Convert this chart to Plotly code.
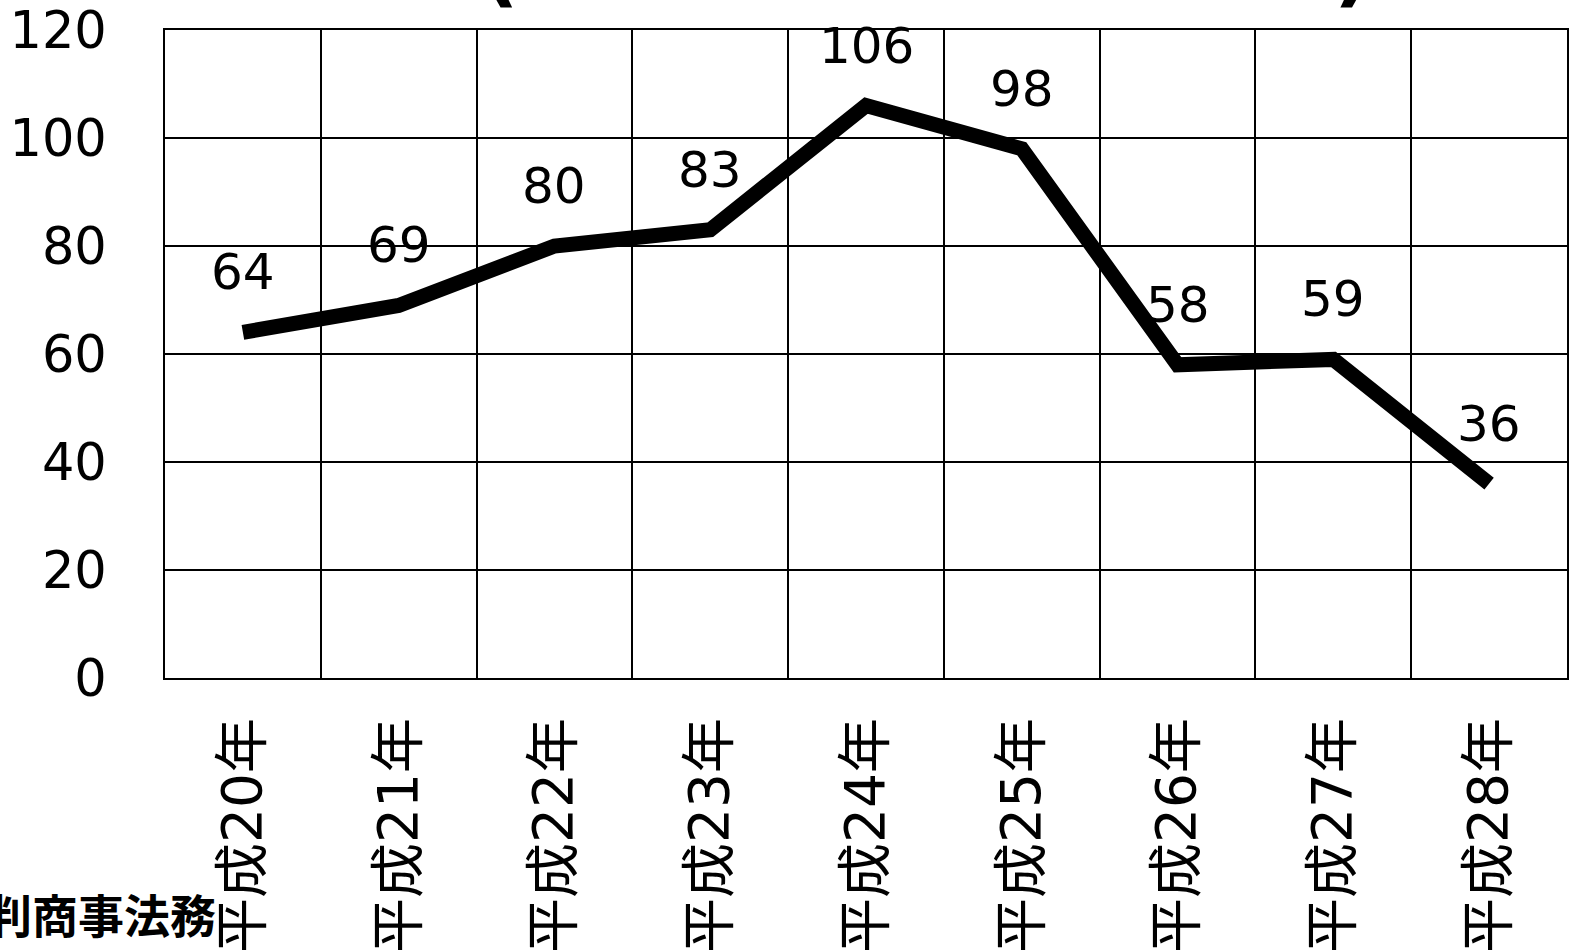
import plotly.graph_objects as go

categories = ["平成20年", "平成21年", "平成22年", "平成23年", "平成24年",
              "平成25年", "平成26年", "平成27年", "平成28年"]
values = [64, 69, 80, 83, 106, 98, 58, 59, 36]
y_ticks = [0, 20, 40, 60, 80, 100, 120]
credit = "©金判商事法務"

FONT = "DejaVu Sans, Verdana, Noto Sans CJK JP, sans-serif"
xs = list(range(len(categories)))

L, R, T, B = 165, 7, 30, 272
PW = 1574 - L - R
PH = 950 - T - B


def px(xp):
    return (xp - L) / PW


def py(yp):
    return (950 - B - yp) / PH


fig = go.Figure()
fig.add_trace(go.Scatter(
    x=xs, y=values, mode="lines",
    line=dict(color="black", width=15),
    hoverinfo="skip", showlegend=False,
))

for x, v in zip(xs, values):
    fig.add_annotation(x=x, y=v, text=str(v), showarrow=False,
                       yshift=60, yanchor="middle",
                       font=dict(family=FONT, size=50, color="black"))

fig.add_annotation(xref="paper", yref="paper", x=px(218), y=py(913),
                   xanchor="right", yanchor="middle", showarrow=False,
                   text="<b>" + credit + "</b>",
                   font=dict(family="Noto Sans CJK JP", size=46, color="black", weight=900))

# tails of cut-off title brackets
fig.add_annotation(xref="paper", yref="paper", x=px(500), y=py(18),
                   xanchor="center", yanchor="bottom", showarrow=False,
                   text="<b>(</b>", font=dict(family="DejaVu Sans", size=80, color="black"))
fig.add_annotation(xref="paper", yref="paper", x=px(1352), y=py(18),
                   xanchor="center", yanchor="bottom", showarrow=False,
                   text="<b>)</b>", font=dict(family="DejaVu Sans", size=80, color="black"))

fig.update_layout(
    width=1574, height=950,
    margin=dict(l=L, r=R, t=T, b=B, autoexpand=False),
    paper_bgcolor="white", plot_bgcolor="white",
    font=dict(family=FONT, color="black"),
    xaxis=dict(
        range=[-0.5, len(categories) - 0.5],
        tickmode="array", tickvals=xs, ticktext=categories,
        tickangle=-90, showgrid=False,
        tickfont=dict(family="DejaVu Sans, Noto Sans CJK JP", size=55, color="black"),
        ticks="", ticklabelstandoff=16,
        showline=True, linecolor="black", linewidth=2, mirror=True,
        minor=dict(tickmode="array",
                   tickvals=[i - 0.5 for i in range(len(categories) + 1)],
                   showgrid=True, gridcolor="black", gridwidth=2, ticks=""),
        zeroline=False, automargin=False, fixedrange=True,
    ),
    yaxis=dict(
        range=[0, 120], tickmode="array", tickvals=y_ticks,
        tickfont=dict(family=FONT, size=51, color="black"),
        showgrid=True, gridcolor="black", gridwidth=2,
        showline=True, linecolor="black", linewidth=2, mirror=True,
        ticks="", ticklabelstandoff=46,
        zeroline=False, automargin=False, fixedrange=True,
    ),
)

fig.write_html("out.html")
